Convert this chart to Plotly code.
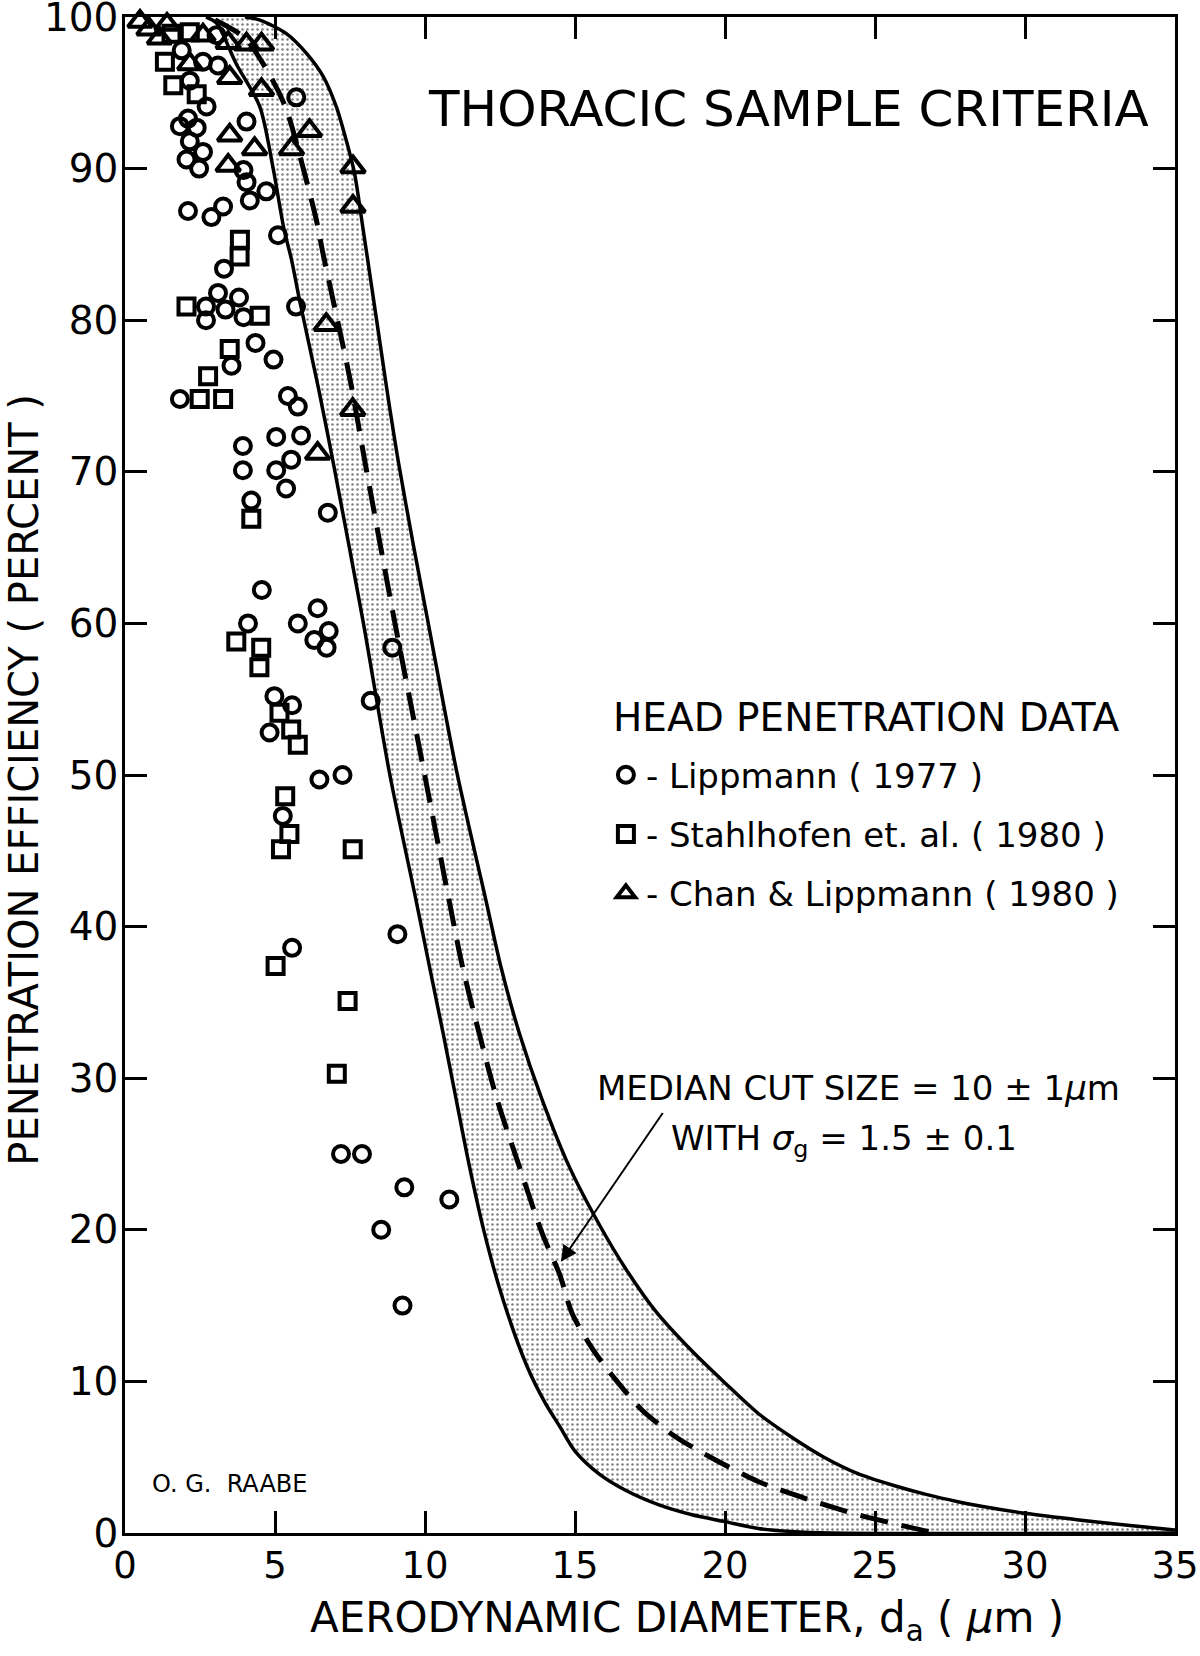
import plotly.graph_objects as go

# ---------------- data ----------------
LIPP_X = [3.05, 1.89, 2.6, 3.1, 2.16, 2.72, 2.1, 1.83, 2.39, 2.16, 2.6, 2.05, 2.47, 4.05, 5.71, 3.95,
          4.05, 4.71, 4.16, 2.1, 2.88, 3.27, 5.1, 3.3, 3.1, 3.8, 2.7, 3.35, 3.95, 2.7, 5.7, 4.35, 4.95,
          3.55, 1.83, 5.43, 5.76, 5.04, 5.87, 3.93, 5.54, 5.04, 3.93, 5.37, 4.21, 6.76, 4.56, 4.1, 5.76,
          6.42, 6.79, 6.31, 6.72, 8.91, 8.19, 4.98, 5.57, 4.82, 6.48, 7.25, 5.26, 9.08, 5.57, 7.2, 7.9,
          9.31, 10.81, 8.54, 9.25]
LIPP_Y = [98.8, 97.8, 97.05, 96.8, 95.8, 94.1, 93.3, 92.8, 92.7, 91.8, 91.1, 90.6, 90.0, 93.1, 94.7, 89.9,
          89.1, 88.5, 87.9, 87.2, 86.8, 87.5, 85.6, 83.4, 81.8, 81.5, 80.9, 80.7, 80.2, 80.0, 80.9, 78.5, 77.4,
          77.0, 74.8, 75.0, 74.3, 72.3, 72.4, 71.7, 70.8, 70.1, 70.1, 68.9, 68.1, 67.3, 62.2, 60.0, 60.0,
          61.0, 59.5, 58.9, 58.4, 58.4, 54.9, 55.2, 54.6, 52.8, 49.7, 50.0, 47.3, 39.5, 38.6, 25.0, 25.0,
          22.8, 22.0, 20.0, 15.0]

STAHL_X = [2.16, 1.55, 1.33, 1.61, 2.39, 3.83, 3.82, 2.05, 4.49, 3.49, 2.77, 2.49, 3.27, 4.21, 3.71,
           4.54, 4.48, 5.15, 5.54, 5.76, 5.34, 5.48, 5.2, 7.59, 5.02, 7.42, 7.06]
STAHL_Y = [99.0, 98.9, 97.05, 95.5, 94.9, 85.3, 84.2, 80.9, 80.3, 78.1, 76.3, 74.8, 74.8, 66.9, 58.8,
           58.4, 57.1, 54.1, 53.0, 52.0, 48.6, 46.1, 45.1, 45.1, 37.4, 35.1, 30.3]

CHAN_X = [0.5, 0.8, 1.15, 1.4, 2.6, 2.16, 3.44, 4.05, 4.55, 3.49, 4.55, 3.49, 4.32, 3.44, 6.15, 5.55,
          7.6, 7.6, 6.71, 7.59, 6.42]
CHAN_Y = [99.7, 99.2, 98.6, 99.5, 98.8, 96.9, 98.3, 98.2, 98.2, 96.0, 95.2, 92.2, 91.3, 90.2, 92.5, 91.3,
          90.1, 87.5, 79.7, 74.1, 71.2]

# upper (right) boundary of the criterion band
UPPER_X = [4.0, 4.5, 5.38, 6.05, 6.6, 7.04, 7.37, 7.65, 7.9, 8.2, 8.5, 8.8, 9.1, 9.6, 10.09, 11.07,
           12.03, 12.53, 13.14, 13.9, 14.8, 15.85, 16.7, 17.7, 18.9, 20.0, 21.1, 22.2, 23.3, 24.45,
           25.6, 26.7, 27.8, 28.5, 30.0, 31.8, 33.5, 35.0]
UPPER_Y = [100, 99.8, 98.9, 97.6, 96.1, 94.1, 91.9, 89.7, 86.5, 82.5, 78.5, 74.5, 70.8, 65.3, 60.2, 50.1,
           41.75, 37.35, 33.0, 28.6, 24.2, 20.2, 17.4, 14.6, 12.0, 9.9, 7.9, 6.35, 5.0, 3.9,
           3.15, 2.55, 2.05, 1.78, 1.3, 0.86, 0.5, 0.2]
# lower (left) boundary of the criterion band
LOWER_X = [2.7, 3.05, 3.71, 4.49, 4.93, 5.3, 5.55, 5.82, 6.45, 6.98, 7.93, 8.82, 9.7, 10.15, 10.6,
           10.95, 11.48, 11.98, 12.6, 13.4, 14.0, 14.5, 15.0, 15.8, 16.7, 17.8, 18.9, 20.0, 21.1, 22.2,
           23.5, 35.0]
LOWER_Y = [100, 99.6, 96.9, 94.1, 90.1, 86.0, 84.0, 81.3, 75.5, 70.2, 60.2, 50.1, 41.75, 37.35, 33.0,
           29.5, 24.2, 19.8, 15.4, 11.0, 8.6, 7.0, 5.4, 3.9, 2.8, 1.85, 1.2, 0.75, 0.3, 0.1,
           0.0, 0.0]
# median curve (dashed)
MED_X = [3.0, 4.0, 4.93, 5.38, 5.93, 6.38, 6.6, 7.5, 8.04, 8.98, 9.98, 10.8, 11.25, 11.8, 12.4, 13.14,
         13.9, 14.5, 14.9, 15.6, 16.36, 17.24, 18.35, 19.7, 21.1, 22.8, 24.45, 26.1, 27.0]
MED_Y = [99.8, 98.6, 95.8, 93.9, 90.1, 86.6, 84.4, 76.1, 70.2, 60.2, 50.1, 41.75, 37.35, 33.0, 28.6, 24.2,
         19.8, 17.0, 14.5, 12.1, 10.1, 8.1, 6.35, 4.8, 3.4, 2.2, 1.2, 0.4, 0.0]

X_TICKS = [0, 5, 10, 15, 20, 25, 30, 35]
Y_TICKS = [0, 10, 20, 30, 40, 50, 60, 70, 80, 90, 100]

FONT = "DejaVu Sans, Liberation Sans, Arial, sans-serif"

fig = go.Figure()

# shaded band (polygon built from the two boundaries)
fig.add_trace(go.Scatter(
    x=UPPER_X + LOWER_X[::-1], y=UPPER_Y + LOWER_Y[::-1],
    fill="toself", mode="lines", showlegend=False, hoverinfo="skip",
    line=dict(width=0, shape="spline", smoothing=0.8, color="rgba(0,0,0,0)"),
    fillcolor="white",
    fillpattern=dict(shape=".", fgcolor="black", bgcolor="white", size=5, solidity=0.2),
))
fig.add_trace(go.Scatter(x=UPPER_X, y=UPPER_Y, mode="lines", showlegend=False,
                         line=dict(color="black", width=3.5, shape="spline", smoothing=0.8)))
fig.add_trace(go.Scatter(x=LOWER_X, y=LOWER_Y, mode="lines", showlegend=False,
                         line=dict(color="black", width=3.5, shape="spline", smoothing=0.8)))
fig.add_trace(go.Scatter(x=MED_X, y=MED_Y, mode="lines", showlegend=False,
                         line=dict(color="black", width=5, dash="28px,14px",
                                   shape="spline", smoothing=0.8)))

mk = dict(color="black", line=dict(color="black", width=4))
fig.add_trace(go.Scatter(x=LIPP_X, y=LIPP_Y, mode="markers", name="- Lippmann ( 1977 )",
                         legendgroup="a", cliponaxis=False,
                         marker=dict(symbol="circle-open", size=16, **mk)))
fig.add_trace(go.Scatter(x=STAHL_X, y=STAHL_Y, mode="markers", name="- Stahlhofen et. al. ( 1980 )",
                         legendgroup="b", cliponaxis=False,
                         marker=dict(symbol="square-open", size=16, **mk)))
fig.add_trace(go.Scatter(x=CHAN_X, y=CHAN_Y, mode="markers", name="- Chan & Lippmann ( 1980 )",
                         legendgroup="c", cliponaxis=False,
                         marker=dict(symbol="triangle-up-open", size=21, **mk)))

axis_common = dict(showline=True, linewidth=2.5, linecolor="black", mirror="ticks",
                   ticks="inside", ticklen=22, tickwidth=2.5, tickcolor="black",
                   showgrid=False, zeroline=False, ticklabeloverflow="allow",
                   automargin=False)

fig.update_xaxes(range=[0, 35], tickvals=X_TICKS, ticktext=[str(v) for v in X_TICKS],
                 ticklabelstandoff=-2, tickfont=dict(family=FONT, size=37, color="black"),
                 **axis_common)
fig.update_yaxes(range=[0, 100], tickvals=Y_TICKS, ticktext=[str(v) for v in Y_TICKS],
                 ticklabelstandoff=-4, tickfont=dict(family=FONT, size=39, color="black"),
                 **axis_common)


def note(text, x, y, size, **kw):
    return dict(text=text, x=x, y=y, xref="paper", yref="paper", xanchor="center",
                yanchor="middle", showarrow=False,
                font=dict(family=FONT, size=size, color="black"), **kw)


annotations = [
    note("THORACIC SAMPLE CRITERIA", 0.632, 0.939, 50),
    note("HEAD PENETRATION DATA", 0.706, 0.5376, 39),
    note("MEDIAN CUT SIZE = 10 ± 1<i>μ</i>m", 0.699, 0.2935, 34),
    note("WITH <i>σ</i><sub>g</sub> = 1.5 ± 0.1", 0.685, 0.2586, 34),
    note("O. G.  RAABE", 0.0999, 0.0323, 24),
    note("PENETRATION EFFICIENCY ( PERCENT )", -0.097, 0.497, 40, textangle=-90),
    note("AERODYNAMIC DIAMETER, d<sub>a</sub> ( <i>μ</i>m )", 0.535, -0.058, 42),
    # arrow pointing at the median curve
    dict(x=14.53, y=17.9, ax=17.96, ay=27.8, xref="x", yref="y", axref="x", ayref="y",
         text="", showarrow=True, arrowhead=2, arrowsize=1.6, arrowwidth=2, arrowcolor="black"),
]

fig.update_layout(
    width=1200, height=1656,
    margin=dict(l=125, r=25, t=17, b=123, autoexpand=False),
    paper_bgcolor="white", plot_bgcolor="white",
    annotations=annotations,
    showlegend=True,
    legend=dict(
        x=0.458, y=0.519, xanchor="left", yanchor="top",
        bgcolor="rgba(0,0,0,0)", borderwidth=0,
        font=dict(family=FONT, size=34, color="black"),
        tracegroupgap=12, itemsizing="trace",
    ),
)

fig.write_html("out.html",
               config={"displayModeBar": False},
               post_script="document.body.style.margin='0px';"
                           "document.documentElement.style.overflow='hidden';")
